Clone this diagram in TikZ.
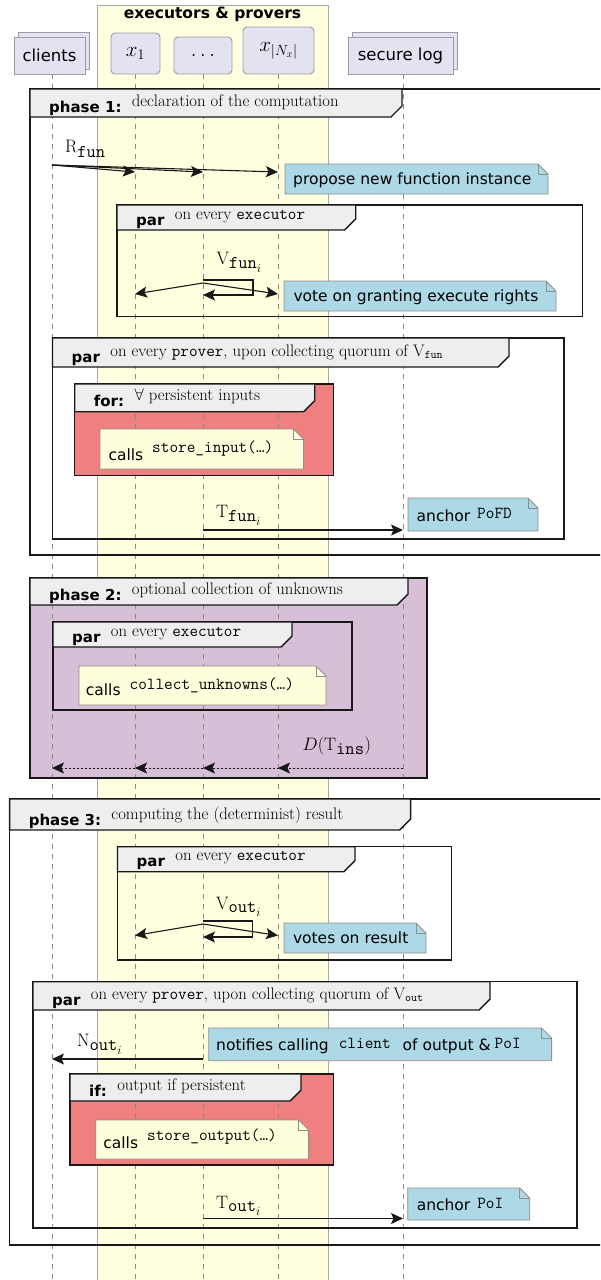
\RequirePackage{fix-cm}
\documentclass[tikz,border=0pt]{standalone}
\usepackage{fontspec}
\newfontfamily\dv{DejaVu Sans}
\usetikzlibrary{arrows.meta,calc}

\definecolor{bandfill}{HTML}{FFFFE0}
\definecolor{bandline}{HTML}{A8A8A8}
\definecolor{partfill}{HTML}{E2E2F0}
\definecolor{partline}{HTML}{9C9CA4}
\definecolor{lifegray}{HTML}{8A8A8A}
\definecolor{tabgray}{HTML}{EEEEEE}
\definecolor{notegray}{HTML}{8E8E8E}
\definecolor{noteblue}{HTML}{ADD8E6}
\definecolor{noteyellow}{HTML}{FEFEDC}
\definecolor{loopred}{HTML}{F08080}
\definecolor{optpurple}{HTML}{D8BFD8}
\definecolor{ink}{HTML}{181818}

% inline code in notes and headers
\newcommand{\code}[1]{{\fontsize{16.8}{19}\ttfamily #1}}

% frame with a tab: name, left, top, right, bottom, tab right, tab bottom, keyword, caption
\newcommand{\seqframe}[9]{%
  \draw[framebd] (#2,#3) rectangle (#4,#5);
  \filldraw[framebd, fill=tabgray] (#2,#3) -- (#6,#3) -- (#6,#7-11) -- (#6-11,#7) -- (#2,#7) -- cycle;
  \node[boldlbl, anchor=base west] (#1-key) at (#2+19,#7-5) {#8};
  \node[serlbl, anchor=base west] (#1-txt) at ($(#1-key.base east)+(10,-6)$) {#9};
}

% note with a folded corner: fill, left, top, right, bottom
\newcommand{\notebox}[5]{%
  \filldraw[fill=#1, draw=notegray, line width=0.8pt] (#2,#3) -- (#4-10,#3) -- (#4,#3+10) -- (#4,#5) -- (#2,#5) -- cycle;
  \draw[draw=notegray, line width=0.8pt] (#4-10,#3) -- (#4-10,#3+10) -- (#4,#3+10);
}

\begin{document}
\begin{tikzpicture}[x=1pt,y=-1pt,
  partbox/.style={draw=partline, fill=partfill, line width=0.9pt},
  partlbl/.style={font=\dv\fontsize{16.5}{19}\selectfont, inner sep=0pt},
  partmath/.style={font=\fontsize{21}{24}\selectfont, inner sep=0pt},
  lifeline/.style={draw=lifegray, line width=0.8pt, dash pattern=on 5pt off 5pt},
  framebd/.style={draw=ink, line width=1.4pt},
  boldlbl/.style={font=\dv\bfseries\fontsize{15}{18}\selectfont, inner sep=0pt},
  serlbl/.style={font=\fontsize{16.7}{20}\selectfont, inner sep=0pt},
  notetxt/.style={font=\dv\fontsize{15.5}{18}\selectfont, inner sep=0pt},
  msglbl/.style={font=\fontsize{18}{22}\selectfont, inner sep=0pt},
  tip/.style={-{Stealth[length=12pt,width=11pt,inset=2.5pt]}},
  msg/.style={draw=ink, line width=1.1pt, tip},
  retmsg/.style={draw=ink, line width=1pt, dash pattern=on 2pt off 2pt, tip}
]
\useasboundingbox (0,0) rectangle (600,1280);
\clip (0,0) rectangle (600,1280);

% group band of executors and provers
\filldraw[fill=bandfill, draw=bandline, line width=0.8pt] (97,5) rectangle (328,1295);
\node[font=\dv\bfseries\fontsize{15.5}{18}\selectfont, inner sep=0pt, anchor=base] (grp) at (212.5,18.5) {executors \& provers};

% coloured frame bodies
\fill[optpurple] (30,578) rectangle (427,778);
\fill[loopred] (74.7,384) rectangle (333.6,475.7);
\fill[loopred] (70,1074) rectangle (333.7,1165);

% lifelines
\foreach \n/\x in {cl/52, xa/135, xb/203, xc/278, sl/403} {
  \coordinate (\n-top) at (\x,74);
  \coordinate (\n-end) at (\x,1285);
  \draw[lifeline] (\n-top) -- (\n-end);
}

% participants
\draw[partbox] (18.6,32) rectangle (89.6,69);
\node[partbox, partlbl, minimum width=71pt, minimum height=37pt] (clients) at (49.5,55.5) {clients};
\node[partbox, partmath, rounded corners=4pt, minimum width=49pt, minimum height=41pt] (xone) at (135.5,53.5) {$x_1$};
\node[partbox, partmath, rounded corners=4pt, minimum width=58pt, minimum height=37pt] (xdots) at (203,55.5) {$\ldots$};
\node[partbox, partmath, rounded corners=4pt, minimum width=71pt, minimum height=47pt] (xlast) at (278.5,50.5) {$x_{|N_x|}$};
\draw[partbox] (352.6,32) rectangle (457.6,69);
\node[partbox, partlbl, minimum width=105pt, minimum height=37pt] (seclog) at (400.5,55.5) {secure log};

% frames
\seqframe{ph1}{30}{89}{612}{555}{402}{117}{phase 1:}{declaration of the computation}
\seqframe{pe1}{117}{205}{582.7}{316.7}{355.7}{230}{par}{on every \texttt{executor}}
\seqframe{pp1}{52.5}{338}{563.8}{539}{509}{367}{par}{on every \texttt{prover}, upon collecting quorum of $\mathrm{V}_{\mathtt{fun}}$}
\seqframe{lp1}{74.7}{384}{333.6}{475.7}{314.7}{411.7}{for:}{$\forall$ persistent inputs}
\seqframe{ph2}{30}{578}{427}{778}{408}{605}{phase 2:}{optional collection of unknowns}
\seqframe{pe2}{53}{622}{352}{710}{292}{647}{par}{on every \texttt{executor}}
\seqframe{ph3}{9.6}{799}{612}{1245}{410.6}{830}{phase 3:}{computing the (determinist) result}
\seqframe{pe3}{117.5}{846.7}{451.6}{960}{355}{871.7}{par}{on every \texttt{executor}}
\seqframe{pp3}{33}{981.7}{576.8}{1228}{490}{1010}{par}{on every \texttt{prover}, upon collecting quorum of $\mathrm{V}_{\mathtt{out}}$}
\seqframe{cd3}{70}{1074}{333.7}{1165}{301}{1101}{if:}{output if persistent}

% notes
\notebox{noteblue}{285}{164}{548}{194}
\node[notetxt, anchor=base west] (n-propose) at (293,184.5) {propose new function instance};
\notebox{noteblue}{284}{281}{556}{311}
\node[notetxt, anchor=base west] (n-vote) at (293.3,301.5) {vote on granting execute rights};
\notebox{noteyellow}{100}{429}{303.5}{469}
\node[notetxt, anchor=base west] (n-sin) at (108.3,460) {calls\hspace{9pt}\raisebox{7.5pt}{\code{store\_input(\dots)}}};
\notebox{noteblue}{408}{498}{538}{531}
\node[notetxt, anchor=base west] (n-pofd) at (416.5,521.5) {anchor\hspace{7pt}\raisebox{3pt}{\code{PoFD}}};
\notebox{noteyellow}{79}{666}{326}{705}
\node[notetxt, anchor=base west] (n-unk) at (85.7,695) {calls\hspace{9pt}\raisebox{6pt}{\code{collect\_unknowns(\dots)}}};
\notebox{noteblue}{284}{923}{426}{953}
\node[notetxt, anchor=base west] (n-res) at (292.8,943.3) {votes on result};
\notebox{noteblue}{208.7}{1028}{551.6}{1060.7}
\node[notetxt, anchor=base west] (n-notif) at (216,1050.7) {notifies calling\hspace{10pt}\raisebox{2pt}{\code{client}}\hspace{12pt}of output \&\hspace{4pt}\raisebox{2pt}{\code{PoI}}};
\notebox{noteyellow}{95.8}{1120}{308.6}{1159}
\node[notetxt, anchor=base west] (n-sout) at (103.2,1148.3) {calls\hspace{9pt}\raisebox{7.5pt}{\code{store\_output(\dots)}}};
\notebox{noteblue}{407.7}{1188}{529.8}{1220}
\node[notetxt, anchor=base west] (n-poi) at (416.6,1210) {anchor\hspace{7pt}\raisebox{2pt}{\code{PoI}}};

% phase 1 messages
\coordinate (rf-s) at (52,165);
\coordinate (rf-1) at (135,172);
\coordinate (rf-2) at (203,172);
\coordinate (rf-3) at (278,172);
\draw[msg] (rf-s) -- (rf-1);
\draw[msg] (rf-s) -- (rf-2);
\draw[msg] (rf-s) -- (rf-3);
\node[msglbl, anchor=base west] (l-rfun) at (65,152.5) {$\mathrm{R}_{\mbox{\ttfamily fun}}$};

\coordinate (vf-o) at (203,280);
\coordinate (vf-r) at (253,280);
\coordinate (vf-rb) at (253,295);
\coordinate (vf-b) at (203,295);
\coordinate (vf-s) at (203,283);
\coordinate (vf-1) at (135,294);
\coordinate (vf-3) at (278,294);
\draw[msg] (vf-s) -- (vf-1);
\draw[msg] (vf-s) -- (vf-3);
\draw[msg] (vf-o) -- (vf-r) -- (vf-rb) -- (vf-b);
\node[msglbl, anchor=base west] (l-vfun) at (216.5,264) {$\mathrm{V}_{\mbox{\ttfamily fun}_{\scriptstyle i}}$};

\coordinate (tf-s) at (203,530);
\coordinate (tf-e) at (403,530);
\draw[msg] (tf-s) -- (tf-e);
\node[msglbl, anchor=base west] (l-tfun) at (216,517) {$\mathrm{T}_{\mbox{\ttfamily fun}_{\scriptstyle i}}$};

% phase 2 messages
\coordinate (di-s) at (403,768);
\coordinate (di-3) at (278,768);
\coordinate (di-2) at (203,768);
\coordinate (di-1) at (135,768);
\coordinate (di-0) at (52,768);
\draw[retmsg] (di-s) -- (di-3);
\draw[retmsg] (di-s) -- (di-2);
\draw[retmsg] (di-s) -- (di-1);
\draw[retmsg] (di-s) -- (di-0);
\node[msglbl, anchor=base west] (l-dins) at (302.5,750) {$D(\mathrm{T}_{\mbox{\ttfamily ins}})$};

% phase 3 messages
\coordinate (vo-o) at (203,921);
\coordinate (vo-r) at (252.6,921);
\coordinate (vo-rb) at (252.6,937);
\coordinate (vo-b) at (203,937);
\coordinate (vo-s) at (203,924);
\coordinate (vo-1) at (135,935.5);
\coordinate (vo-3) at (278,935.5);
\draw[msg] (vo-s) -- (vo-1);
\draw[msg] (vo-s) -- (vo-3);
\draw[msg] (vo-o) -- (vo-r) -- (vo-rb) -- (vo-b);
\node[msglbl, anchor=base west] (l-vout) at (216,909) {$\mathrm{V}_{\mbox{\ttfamily out}_{\scriptstyle i}}$};

\coordinate (no-s) at (203,1059);
\coordinate (no-e) at (52,1059);
\draw[msg] (no-s) -- (no-e);
\node[msglbl, anchor=base west] (l-nout) at (77,1046.5) {$\mathrm{N}_{\mbox{\ttfamily out}_{\scriptstyle i}}$};

\coordinate (to-s) at (203,1218.5);
\coordinate (to-e) at (403,1218.5);
\draw[msg] (to-s) -- (to-e);
\node[msglbl, anchor=base west] (l-tout) at (216,1208) {$\mathrm{T}_{\mbox{\ttfamily out}_{\scriptstyle i}}$};
\end{tikzpicture}
\end{document}
